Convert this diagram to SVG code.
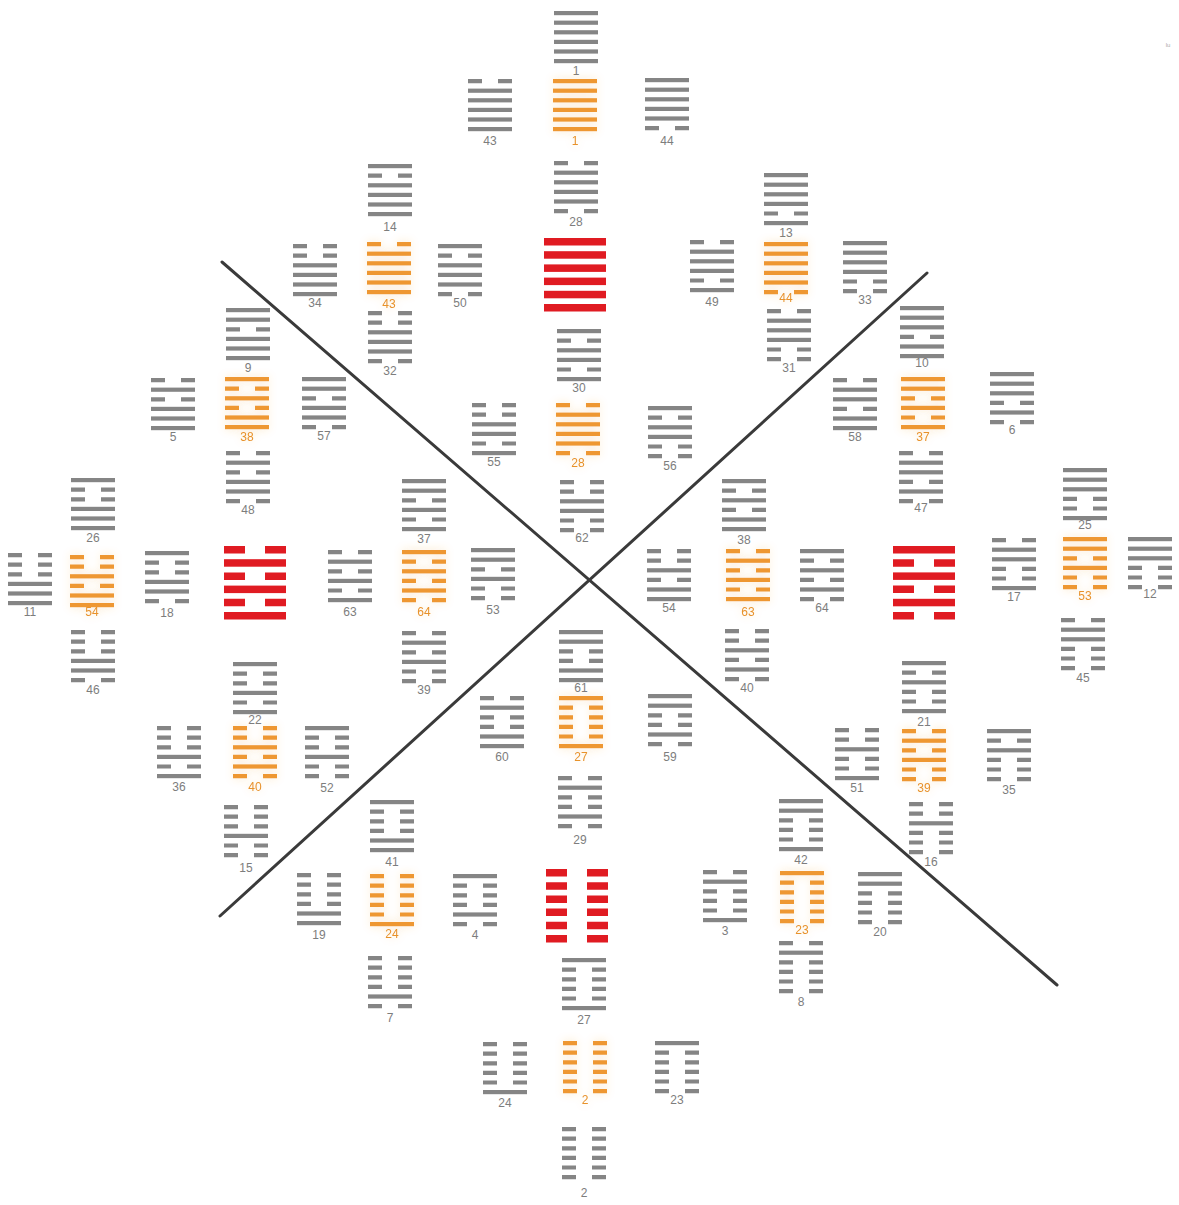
<svg xmlns="http://www.w3.org/2000/svg" width="1179" height="1205" viewBox="0 0 1179 1205">
<style>
.gy{fill:#858585}
.or{fill:#ee9733;filter:url(#glow)}
.rd{fill:#e01b22}
text{font-family:"Liberation Sans",Arial,sans-serif;font-size:12px;text-anchor:middle}
.gy text{fill:#7d7d7d}
.or text{fill:#e8922c}
.conn line{stroke:#3a3a3a;stroke-width:3;stroke-linecap:round}
</style>
<defs>
<filter id="glow" x="-40%" y="-40%" width="180%" height="180%">
<feGaussianBlur in="SourceGraphic" stdDeviation="5" result="b"/>
<feComponentTransfer in="b" result="c"><feFuncA type="linear" slope="0.25"/></feComponentTransfer>
<feMerge><feMergeNode in="c"/><feMergeNode in="SourceGraphic"/></feMerge>
</filter>
<rect id="s" width="44" height="4.2"/>
<path id="b" d="M0 0h14v4.2H0zM30 0h14v4.2H30z"/>
<g id="Q"><use href="#s"/><use href="#s" y="9.6"/><use href="#s" y="19.2"/></g>
<g id="D"><use href="#b"/><use href="#s" y="9.6"/><use href="#s" y="19.2"/></g>
<g id="L"><use href="#s"/><use href="#b" y="9.6"/><use href="#s" y="19.2"/></g>
<g id="Z"><use href="#b"/><use href="#b" y="9.6"/><use href="#s" y="19.2"/></g>
<g id="X"><use href="#s"/><use href="#s" y="9.6"/><use href="#b" y="19.2"/></g>
<g id="K"><use href="#b"/><use href="#s" y="9.6"/><use href="#b" y="19.2"/></g>
<g id="G"><use href="#s"/><use href="#b" y="9.6"/><use href="#b" y="19.2"/></g>
<g id="N"><use href="#b"/><use href="#b" y="9.6"/><use href="#b" y="19.2"/></g>
<rect id="rs" width="62" height="7.5"/>
<path id="rb" d="M0 0h21v7.5H0zM41 0h21v7.5H41z"/>
<g id="rQ"><use href="#rs"/><use href="#rs" y="13.2"/><use href="#rs" y="26.4"/></g>
<g id="rL"><use href="#rs"/><use href="#rb" y="13.2"/><use href="#rs" y="26.4"/></g>
<g id="rK"><use href="#rb"/><use href="#rs" y="13.2"/><use href="#rb" y="26.4"/></g>
<g id="rN"><use href="#rb"/><use href="#rb" y="13.2"/><use href="#rb" y="26.4"/></g>
</defs>
<rect width="1179" height="1205" fill="#ffffff"/>
<g class="conn" id="connectors">
<line x1="222" y1="262" x2="1057" y2="985"/>
<line x1="220" y1="916" x2="927" y2="273"/>
</g>
<text x="1168" y="47" style="font-size:6px;fill:#aaaaaa">lu</text>

<!-- top cluster -->
<g id="g1" class="gy" transform="translate(554 11)"><use href="#Q"/><use href="#Q" y="28.8"/><text x="22" y="64">1</text></g>
<g id="o1" class="or" transform="translate(553 79)"><use href="#Q"/><use href="#Q" y="28.8"/><text x="22" y="66">1</text></g>
<g id="g43" class="gy" transform="translate(468 79)"><use href="#D"/><use href="#Q" y="28.8"/><text x="22" y="66">43</text></g>
<g id="g44" class="gy" transform="translate(645 78)"><use href="#Q"/><use href="#X" y="28.8"/><text x="22" y="67">44</text></g>
<g id="g28" class="gy" transform="translate(554 161)"><use href="#D"/><use href="#X" y="28.8"/><text x="22" y="65">28</text></g>
<g id="r1" class="rd" transform="translate(544 238)"><use href="#rQ"/><use href="#rQ" y="39.6"/></g>
<g id="g14" class="gy" transform="translate(368 164)"><use href="#L"/><use href="#Q" y="28.8"/><text x="22" y="67">14</text></g>
<g id="o43" class="or" transform="translate(367 242)"><use href="#D"/><use href="#Q" y="28.8"/><text x="22" y="66">43</text></g>
<g id="g34" class="gy" transform="translate(293 244)"><use href="#Z"/><use href="#Q" y="28.8"/><text x="22" y="63">34</text></g>
<g id="g50" class="gy" transform="translate(438 244)"><use href="#L"/><use href="#X" y="28.8"/><text x="22" y="63">50</text></g>
<g id="g32" class="gy" transform="translate(368 311)"><use href="#Z"/><use href="#X" y="28.8"/><text x="22" y="64">32</text></g>
<g id="g13" class="gy" transform="translate(764 173)"><use href="#Q"/><use href="#L" y="28.8"/><text x="22" y="64">13</text></g>
<g id="o44" class="or" transform="translate(764 242)"><use href="#Q"/><use href="#X" y="28.8"/><text x="22" y="60">44</text></g>
<g id="g49" class="gy" transform="translate(690 240)"><use href="#D"/><use href="#L" y="28.8"/><text x="22" y="66">49</text></g>
<g id="g33" class="gy" transform="translate(843 241)"><use href="#Q"/><use href="#G" y="28.8"/><text x="22" y="63">33</text></g>
<g id="g31" class="gy" transform="translate(767 309)"><use href="#D"/><use href="#G" y="28.8"/><text x="22" y="63">31</text></g>
<g id="g30" class="gy" transform="translate(557 329)"><use href="#L"/><use href="#L" y="28.8"/><text x="22" y="63">30</text></g>
<g id="o28" class="or" transform="translate(556 403)"><use href="#D"/><use href="#X" y="28.8"/><text x="22" y="64">28</text></g>
<g id="g55" class="gy" transform="translate(472 403)"><use href="#Z"/><use href="#L" y="28.8"/><text x="22" y="63">55</text></g>
<g id="g56" class="gy" transform="translate(648 406)"><use href="#L"/><use href="#G" y="28.8"/><text x="22" y="64">56</text></g>
<g id="g62" class="gy" transform="translate(560 480)"><use href="#Z"/><use href="#G" y="28.8"/><text x="22" y="62">62</text></g>

<!-- left cluster -->
<g id="r63" class="rd" transform="translate(224 546)"><use href="#rK"/><use href="#rL" y="39.6"/></g>
<g id="o38" class="or" transform="translate(225 377)"><use href="#L"/><use href="#D" y="28.8"/><text x="22" y="64">38</text></g>
<g id="g9" class="gy" transform="translate(226 308)"><use href="#X"/><use href="#Q" y="28.8"/><text x="22" y="64">9</text></g>
<g id="g5" class="gy" transform="translate(151 378)"><use href="#K"/><use href="#Q" y="28.8"/><text x="22" y="63">5</text></g>
<g id="g57" class="gy" transform="translate(302 377)"><use href="#X"/><use href="#X" y="28.8"/><text x="22" y="63">57</text></g>
<g id="g48" class="gy" transform="translate(226 451)"><use href="#K"/><use href="#X" y="28.8"/><text x="22" y="63">48</text></g>
<g id="o54" class="or" transform="translate(70 555)"><use href="#Z"/><use href="#D" y="28.8"/><text x="22" y="61">54</text></g>
<g id="g26" class="gy" transform="translate(71 478)"><use href="#G"/><use href="#Q" y="28.8"/><text x="22" y="64">26</text></g>
<g id="g11" class="gy" transform="translate(8 553)"><use href="#N"/><use href="#Q" y="28.8"/><text x="22" y="63">11</text></g>
<g id="g18" class="gy" transform="translate(145 551)"><use href="#G"/><use href="#X" y="28.8"/><text x="22" y="66">18</text></g>
<g id="g46" class="gy" transform="translate(71 630)"><use href="#N"/><use href="#X" y="28.8"/><text x="22" y="64">46</text></g>
<g id="o64" class="or" transform="translate(402 550)"><use href="#L"/><use href="#K" y="28.8"/><text x="22" y="66">64</text></g>
<g id="g37" class="gy" transform="translate(402 479)"><use href="#X"/><use href="#L" y="28.8"/><text x="22" y="64">37</text></g>
<g id="g63" class="gy" transform="translate(328 550)"><use href="#K"/><use href="#L" y="28.8"/><text x="22" y="66">63</text></g>
<g id="g53" class="gy" transform="translate(471 548)"><use href="#X"/><use href="#G" y="28.8"/><text x="22" y="66">53</text></g>
<g id="g39" class="gy" transform="translate(402 631)"><use href="#K"/><use href="#G" y="28.8"/><text x="22" y="63">39</text></g>
<g id="o40" class="or" transform="translate(233 726)"><use href="#Z"/><use href="#K" y="28.8"/><text x="22" y="65">40</text></g>
<g id="g22" class="gy" transform="translate(233 662)"><use href="#G"/><use href="#L" y="28.8"/><text x="22" y="62">22</text></g>
<g id="g36" class="gy" transform="translate(157 726)"><use href="#N"/><use href="#L" y="28.8"/><text x="22" y="65">36</text></g>
<g id="g52" class="gy" transform="translate(305 726)"><use href="#G"/><use href="#G" y="28.8"/><text x="22" y="66">52</text></g>
<g id="g15" class="gy" transform="translate(224 805)"><use href="#N"/><use href="#G" y="28.8"/><text x="22" y="67">15</text></g>

<!-- right cluster -->
<g id="r64" class="rd" transform="translate(893 546)"><use href="#rL"/><use href="#rK" y="39.6"/></g>
<g id="o37" class="or" transform="translate(901 377)"><use href="#X"/><use href="#L" y="28.8"/><text x="22" y="64">37</text></g>
<g id="g10" class="gy" transform="translate(900 306)"><use href="#Q"/><use href="#D" y="28.8"/><text x="22" y="61">10</text></g>
<g id="g58" class="gy" transform="translate(833 378)"><use href="#D"/><use href="#D" y="28.8"/><text x="22" y="63">58</text></g>
<g id="g6" class="gy" transform="translate(990 372)"><use href="#Q"/><use href="#K" y="28.8"/><text x="22" y="62">6</text></g>
<g id="g47" class="gy" transform="translate(899 451)"><use href="#D"/><use href="#K" y="28.8"/><text x="22" y="61">47</text></g>
<g id="o63" class="or" transform="translate(726 549)"><use href="#K"/><use href="#L" y="28.8"/><text x="22" y="67">63</text></g>
<g id="g38" class="gy" transform="translate(722 479)"><use href="#L"/><use href="#D" y="28.8"/><text x="22" y="65">38</text></g>
<g id="g54" class="gy" transform="translate(647 549)"><use href="#Z"/><use href="#D" y="28.8"/><text x="22" y="63">54</text></g>
<g id="g64" class="gy" transform="translate(800 549)"><use href="#L"/><use href="#K" y="28.8"/><text x="22" y="63">64</text></g>
<g id="g40" class="gy" transform="translate(725 629)"><use href="#Z"/><use href="#K" y="28.8"/><text x="22" y="63">40</text></g>
<g id="o53" class="or" transform="translate(1063 537)"><use href="#X"/><use href="#G" y="28.8"/><text x="22" y="63">53</text></g>
<g id="g25" class="gy" transform="translate(1063 468)"><use href="#Q"/><use href="#Z" y="28.8"/><text x="22" y="61">25</text></g>
<g id="g17" class="gy" transform="translate(992 538)"><use href="#D"/><use href="#Z" y="28.8"/><text x="22" y="63">17</text></g>
<g id="g12" class="gy" transform="translate(1128 537)"><use href="#Q"/><use href="#N" y="28.8"/><text x="22" y="61">12</text></g>
<g id="g45" class="gy" transform="translate(1061 618)"><use href="#D"/><use href="#N" y="28.8"/><text x="22" y="64">45</text></g>
<g id="o39" class="or" transform="translate(902 729)"><use href="#K"/><use href="#G" y="28.8"/><text x="22" y="63">39</text></g>
<g id="g21" class="gy" transform="translate(902 661)"><use href="#L"/><use href="#Z" y="28.8"/><text x="22" y="65">21</text></g>
<g id="g51" class="gy" transform="translate(835 728)"><use href="#Z"/><use href="#Z" y="28.8"/><text x="22" y="64">51</text></g>
<g id="g35" class="gy" transform="translate(987 729)"><use href="#L"/><use href="#N" y="28.8"/><text x="22" y="65">35</text></g>
<g id="g16" class="gy" transform="translate(909 802)"><use href="#Z"/><use href="#N" y="28.8"/><text x="22" y="64">16</text></g>

<!-- bottom cluster -->
<g id="r2" class="rd" transform="translate(546 869)"><use href="#rN"/><use href="#rN" y="39.6"/></g>
<g id="o27" class="or" transform="translate(559 696)"><use href="#G"/><use href="#Z" y="28.8"/><text x="22" y="65">27</text></g>
<g id="g61" class="gy" transform="translate(559 630)"><use href="#X"/><use href="#D" y="28.8"/><text x="22" y="62">61</text></g>
<g id="g60" class="gy" transform="translate(480 696)"><use href="#K"/><use href="#D" y="28.8"/><text x="22" y="65">60</text></g>
<g id="g59" class="gy" transform="translate(648 694)"><use href="#X"/><use href="#K" y="28.8"/><text x="22" y="67">59</text></g>
<g id="g29" class="gy" transform="translate(558 776)"><use href="#K"/><use href="#K" y="28.8"/><text x="22" y="68">29</text></g>
<g id="o24" class="or" transform="translate(370 874)"><use href="#N"/><use href="#Z" y="28.8"/><text x="22" y="64">24</text></g>
<g id="g41" class="gy" transform="translate(370 800)"><use href="#G"/><use href="#D" y="28.8"/><text x="22" y="66">41</text></g>
<g id="g19" class="gy" transform="translate(297 873)"><use href="#N"/><use href="#D" y="28.8"/><text x="22" y="66">19</text></g>
<g id="g4" class="gy" transform="translate(453 874)"><use href="#G"/><use href="#K" y="28.8"/><text x="22" y="65">4</text></g>
<g id="g7" class="gy" transform="translate(368 956)"><use href="#N"/><use href="#K" y="28.8"/><text x="22" y="66">7</text></g>
<g id="o23" class="or" transform="translate(780 871)"><use href="#G"/><use href="#N" y="28.8"/><text x="22" y="63">23</text></g>
<g id="g42" class="gy" transform="translate(779 799)"><use href="#X"/><use href="#Z" y="28.8"/><text x="22" y="65">42</text></g>
<g id="g3" class="gy" transform="translate(703 870)"><use href="#K"/><use href="#Z" y="28.8"/><text x="22" y="65">3</text></g>
<g id="g20" class="gy" transform="translate(858 872)"><use href="#X"/><use href="#N" y="28.8"/><text x="22" y="64">20</text></g>
<g id="g8" class="gy" transform="translate(779 941)"><use href="#K"/><use href="#N" y="28.8"/><text x="22" y="65">8</text></g>
<g id="o2" class="or" transform="translate(563 1041)"><use href="#N"/><use href="#N" y="28.8"/><text x="22" y="63">2</text></g>
<g id="g27" class="gy" transform="translate(562 958)"><use href="#G"/><use href="#Z" y="28.8"/><text x="22" y="66">27</text></g>
<g id="g24" class="gy" transform="translate(483 1042)"><use href="#N"/><use href="#Z" y="28.8"/><text x="22" y="65">24</text></g>
<g id="g23" class="gy" transform="translate(655 1041)"><use href="#G"/><use href="#N" y="28.8"/><text x="22" y="63">23</text></g>
<g id="g2" class="gy" transform="translate(562 1127)"><use href="#N"/><use href="#N" y="28.8"/><text x="22" y="70">2</text></g>
</svg>
